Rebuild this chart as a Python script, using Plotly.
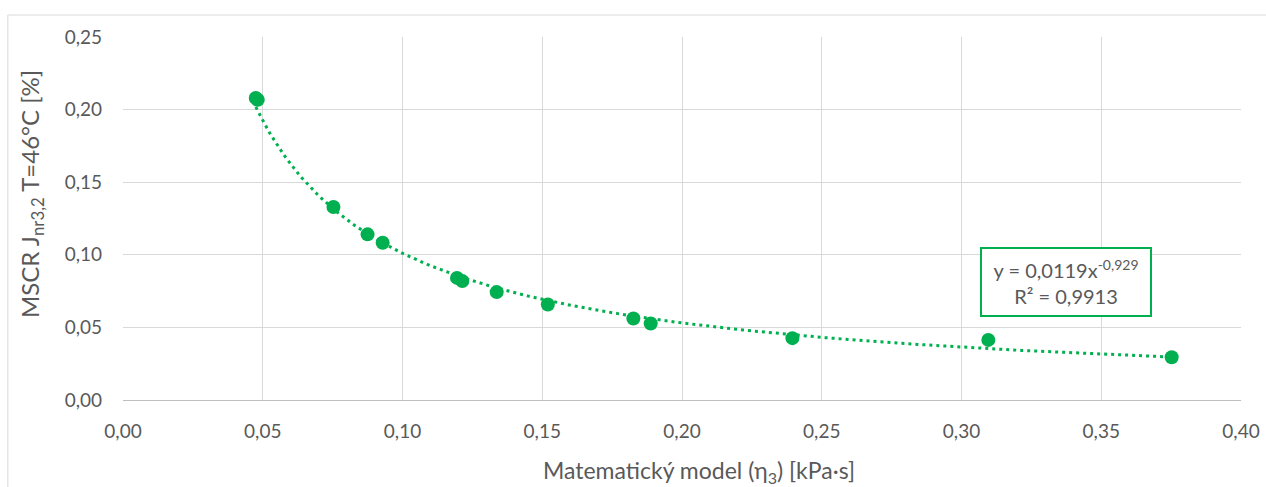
import numpy as np
import plotly.graph_objects as go

# Measured points: viscosity model (eta_3) vs. MSCR Jnr3.2 at 46 °C
eta3 = [0.0475, 0.0482, 0.0753, 0.0875, 0.0929, 0.1195, 0.1214, 0.1337,
        0.1520, 0.1826, 0.1888, 0.2395, 0.3096, 0.3752]
jnr = [0.2080, 0.2068, 0.1329, 0.1141, 0.1083, 0.0841, 0.0819, 0.0743,
       0.0658, 0.0561, 0.0527, 0.0426, 0.0414, 0.0294]

# Power trendline y = a * x^b
coef_a = 0.0119
coef_b = -0.929
r2 = 0.9913

x_ticks = [0.0, 0.05, 0.10, 0.15, 0.20, 0.25, 0.30, 0.35, 0.40]
y_ticks = [0.0, 0.05, 0.10, 0.15, 0.20, 0.25]

x_title = "Matematický model (η<sub>3</sub>) [kPa·s]"
y_title = "MSCR J<sub>nr3,2</sub> T=46°C [%]"

GREEN = "#00B050"
TEXT = "#595959"
GRID = "#D9D9D9"
FONT = "Lato"


def comma(v):
    return str(v).replace(".", ",")


def fmt(v):
    return f"{v:.2f}".replace(".", ",")


xs = np.linspace(min(eta3), max(eta3), 300)
ys = coef_a * xs ** coef_b

fig = go.Figure()
fig.add_trace(go.Scatter(
    x=xs, y=ys, mode="lines",
    line=dict(color=GREEN, width=3, dash="3px,4px"),
    hoverinfo="skip", showlegend=False,
))
fig.add_trace(go.Scatter(
    x=eta3, y=jnr, mode="markers",
    marker=dict(color=GREEN, size=14, line=dict(width=0)),
    showlegend=False,
))

eq_text = f"y = {comma(coef_a)}x<sup>{comma(coef_b)}</sup><br>R² = {comma(r2)}"

fig.add_annotation(
    x=0.3375, y=0.0812, xref="x", yref="y",
    text=eq_text, showarrow=False,
    font=dict(family=FONT, size=20, color=TEXT),
    align="center",
    bordercolor=GREEN, borderwidth=2, borderpad=4,
    bgcolor="white", width=160, height=58,
)

# axis titles, centred on the whole chart area
fig.add_annotation(
    x=0.5152, y=-0.196, xref="paper", yref="paper",
    text=x_title, showarrow=False, xanchor="center", yanchor="middle",
    font=dict(family=FONT, size=23, color=TEXT),
)
fig.add_annotation(
    x=-0.0814, y=0.5675, xref="paper", yref="paper",
    text=y_title, showarrow=False, textangle=-90,
    xanchor="center", yanchor="middle",
    font=dict(family=FONT, size=24, color=TEXT),
)

# outer chart-area frame
fig.add_shape(type="rect", xref="paper", yref="paper",
              x0=-0.103, x1=1.2, y0=-0.5, y1=1.0606,
              line=dict(color=GRID, width=1), layer="below")

fig.update_layout(
    width=1266, height=487,
    margin=dict(l=123, r=25, t=37, b=87),
    paper_bgcolor="white", plot_bgcolor="white",
    font=dict(family=FONT, color=TEXT),
    xaxis=dict(
        range=[0, 0.40], tickvals=x_ticks, ticktext=[fmt(v) for v in x_ticks],
        showgrid=True, gridcolor=GRID, gridwidth=1,
        zeroline=False, showline=True, linecolor="#BFBFBF", linewidth=1,
        ticks="", ticklabelstandoff=14, automargin=False,
        tickfont=dict(size=19, color=TEXT, family=FONT),
    ),
    yaxis=dict(
        range=[0, 0.25], tickvals=y_ticks, ticktext=[fmt(v) for v in y_ticks],
        showgrid=True, gridcolor=GRID, gridwidth=1,
        zeroline=False, showline=False,
        ticks="", ticklabelstandoff=20, automargin=False,
        tickfont=dict(size=19, color=TEXT, family=FONT),
    ),
)

fig.write_html("out.html")
